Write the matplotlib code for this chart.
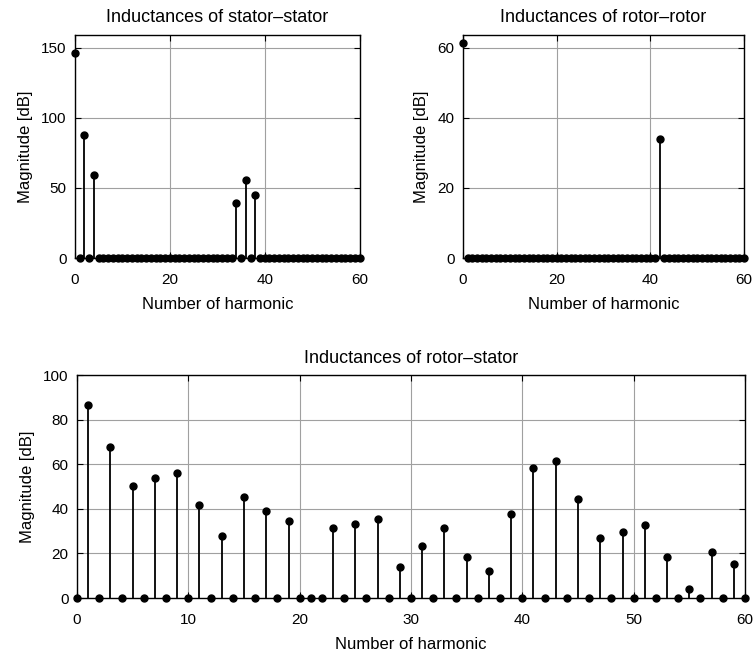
import matplotlib
matplotlib.use("Agg")
import matplotlib.pyplot as plt
import numpy as np

plt.rcParams['font.family'] = ['Liberation Sans', 'DejaVu Sans']

harmonic = np.arange(61)

# stator-stator: only these harmonics are non-zero
ss_harm = [0, 2, 4, 34, 36, 38]
ss_mag = [146.5, 88.0, 59.5, 39.0, 55.5, 45.0]

# rotor-rotor
rr_harm = [0, 42]
rr_mag = [61.2, 33.9]

# rotor-stator: odd harmonics
rs_harm = [1, 3, 5, 7, 9, 11, 13, 15, 17, 19, 21, 23, 25, 27, 29,
           31, 33, 35, 37, 39, 41, 43, 45, 47, 49, 51, 53, 55, 57, 59]
rs_mag = [86.4, 67.9, 50.2, 53.9, 55.9, 41.9, 28.0, 45.5, 39.1, 34.5,
          0.0, 31.6, 33.1, 35.5, 14.1, 23.5, 31.6, 18.6, 12.3, 37.8,
          58.5, 61.3, 44.3, 26.9, 29.7, 32.9, 18.6, 4.0, 20.8, 15.1]


def spectrum(idx, vals):
    mag = np.zeros(len(harmonic))
    mag[idx] = vals
    return mag


def draw(ax, mag, title, ylim, yticks, xticks):
    ax.grid(True, color='#a0a0a0', linewidth=0.8)
    ax.set_axisbelow(True)
    for h, m in zip(harmonic, mag):
        if m > 0:
            ax.plot([h, h], [0, m], color='black', linewidth=1.3, zorder=3)
    ax.plot(harmonic, mag, 'o', color='black', markersize=5, clip_on=False, zorder=4)
    ax.set_xlim(0, 60)
    ax.set_ylim(*ylim)
    ax.set_xticks(xticks)
    ax.set_yticks(yticks)
    ax.tick_params(direction='in', length=4, top=True, right=True, labelsize=11)
    ax.tick_params(axis='x', pad=11)
    ax.tick_params(axis='y', pad=6)
    for s in ax.spines.values():
        s.set_linewidth(1.0)
    ax.set_title(title, fontsize=13, pad=9)
    ax.set_xlabel('Number of harmonic', fontsize=12, labelpad=7)
    ax.set_ylabel('Magnitude [dB]', fontsize=12, labelpad=6)


fig = plt.figure(figsize=(7.53, 6.54), dpi=100)

ax1 = fig.add_axes([0.0996, 0.6055, 0.378, 0.341])
draw(ax1, spectrum(ss_harm, ss_mag), 'Inductances of stator\u2013stator',
     (0, 159), [0, 50, 100, 150], [0, 20, 40, 60])

ax2 = fig.add_axes([0.6149, 0.6055, 0.3732, 0.341])
draw(ax2, spectrum(rr_harm, rr_mag), 'Inductances of rotor\u2013rotor',
     (0, 63.6), [0, 20, 40, 60], [0, 20, 40, 60])

ax3 = fig.add_axes([0.1023, 0.0856, 0.8871, 0.341])
draw(ax3, spectrum(rs_harm, rs_mag), 'Inductances of rotor\u2013stator',
     (0, 100), [0, 20, 40, 60, 80, 100], [0, 10, 20, 30, 40, 50, 60])

fig.savefig('out.png', dpi=100)
